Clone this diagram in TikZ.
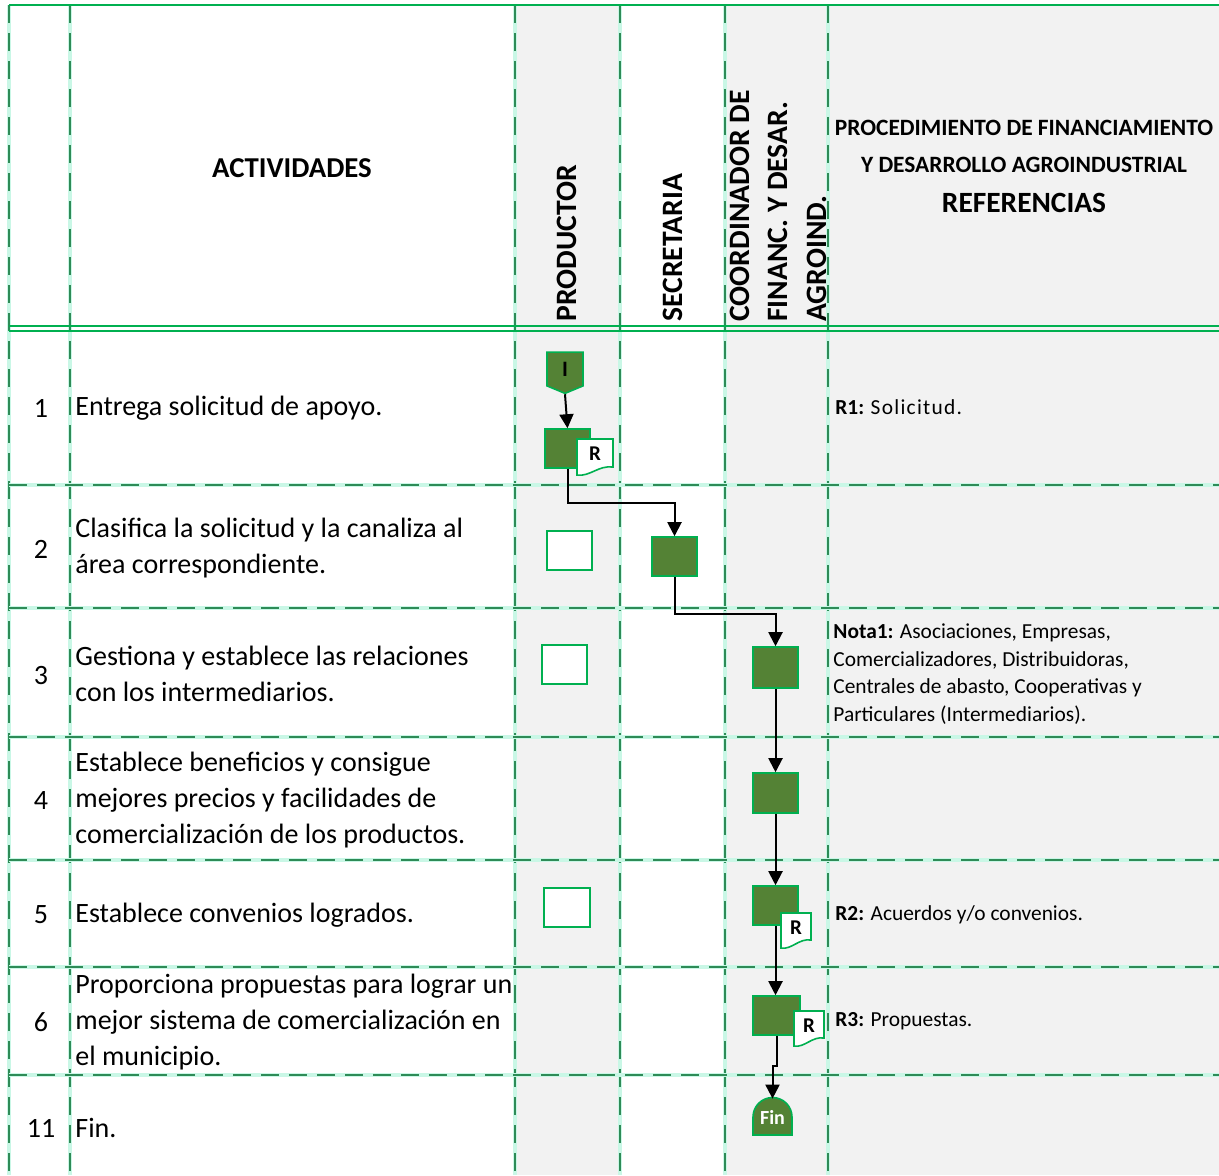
\documentclass[tikz,border=0pt]{standalone}
\usepackage{fontspec}
\setmainfont{Carlito}
\usetikzlibrary{arrows.meta,shapes.symbols,calc}

\definecolor{lanegray}{HTML}{F2F2F2}
\definecolor{linegreen}{HTML}{00B050}
\definecolor{dashgreen}{HTML}{2E8B57}
\definecolor{mint}{HTML}{C9F7E6}
\definecolor{stepgreen}{HTML}{548235}

\tikzset{
    gridbase/.style={draw=mint, line width=1.6pt},
    griddash/.style={draw=dashgreen, line width=1.2pt, dash pattern=on 9pt off 5pt},
    frameline/.style={draw=linegreen, line width=1.1pt},
    stepbox/.style={draw=linegreen, fill=stepgreen, line width=0.8pt, minimum width=22.5pt, minimum height=19.5pt, inner sep=0pt},
    emptybox/.style={draw=linegreen, fill=white, line width=0.8pt, minimum width=22.5pt, minimum height=19.5pt, inner sep=0pt},
    startbox/.style={shape=signal, signal to=south, signal from=nowhere, signal pointer angle=135, draw=linegreen, fill=stepgreen, line width=0.8pt, minimum width=18pt, minimum height=17.5pt, inner sep=0pt, font=\bfseries\fontsize{11}{12}\selectfont},
    docline/.style={draw=linegreen, fill=white, line width=0.8pt},
    doctext/.style={inner sep=0pt, font=\bfseries\fontsize{10.5}{12}\selectfont},
    fintext/.style={inner sep=0pt, minimum width=19.5pt, minimum height=18pt, text=white, font=\bfseries\fontsize{10}{11}\selectfont},
    flow/.style={draw=black, line width=1pt, -{Triangle[length=7pt,width=7pt]}},
    acttext/.style={anchor=west, align=left, inner sep=0pt, font=\fontsize{14}{18}\selectfont},
    numtext/.style={inner sep=0pt, font=\fontsize{14}{18}\selectfont},
    reftext/.style={anchor=west, align=left, inner sep=0pt, font=\fontsize{10.7}{13.75}\selectfont},
    lanehead/.style={rotate=90, anchor=west, align=left, inner sep=0pt, font=\bfseries\fontsize{14.8}{19.25}\selectfont}
}

% dashed grid line: light base with dark dashes
\newcommand{\gridline}[2]{%
    \draw[gridbase] #1 -- #2;
    \draw[griddash] #1 -- #2;
}

% document symbol with an R: name, left, top, width, height
\newcommand{\docR}[5]{%
    \draw[docline] (#2,#3) -- ({#2+#4},#3) -- ({#2+#4},{#3+#5-8}) .. controls ({#2+0.6*#4},{#3+#5-10}) and ({#2+0.35*#4},{#3+#5+2}) .. (#2,{#3+#5}) -- cycle;
    \node[doctext] (#1) at ({#2+#4/2},{#3+#5/2-3}) {R};
}

\begin{document}
\begin{tikzpicture}[x=0.5pt,y=-0.5pt]
    \useasboundingbox (0,0) rectangle (1219,1175);

    % lanes
    \fill[lanegray] (515,5) rectangle (620,1175);
    \fill[lanegray] (725,5) rectangle (1219,1175);

    \foreach \x in {9,70,515,620,725,828} {
        \gridline{(\x,5)}{(\x,1175)}
    }
    \foreach \y in {485,608,737,860,967,1075} {
        \gridline{(9,\y)}{(1219,\y)}
    }
    \draw[frameline] (9,5) -- (1219,5);
    \draw[frameline] (9,326) -- (1219,326);
    \draw[frameline] (9,331) -- (1219,331);

    % header
    \node[font=\bfseries\fontsize{14.4}{16}\selectfont] (acthead) at (292,168) {ACTIVIDADES};
    \node[lanehead] (prodhead) at (567,322) {PRODUCTOR};
    \node[lanehead] (secrhead) at (673,322) {SECRETARIA};
    \node[lanehead] (coorhead) at (778,322) {COORDINADOR DE\\FINANC. Y DESAR.\\AGROIND.};
    \node[font=\bfseries\fontsize{11.7}{13}\selectfont] (title1) at (1024,128) {PROCEDIMIENTO DE FINANCIAMIENTO};
    \node[font=\bfseries\fontsize{11.7}{13}\selectfont] (title2) at (1024,165) {Y DESARROLLO AGROINDUSTRIAL};
    \node[font=\bfseries\fontsize{14.7}{16}\selectfont] (refhead) at (1024,203) {REFERENCIAS};

    % numbers and activities
    \foreach \n/\y in {1/408,2/549,3/675,4/800,5/915,6/1022,11/1128} {
        \node[numtext] (num\n) at (41,\y) {\n};
    }
    \node[acttext] (act1) at (75,408) {Entrega solicitud de apoyo.};
    \node[acttext] (act2) at (75,548) {Clasifica la solicitud y la canaliza al\\área correspondiente.};
    \node[acttext] (act3) at (75,674) {Gestiona y establece las relaciones\\con los intermediarios.};
    \node[acttext] (act4) at (75,800) {Establece beneficios y consigue\\mejores precios y facilidades de\\comercialización de los productos.};
    \node[acttext] (act5) at (75,915) {Establece convenios logrados.};
    \node[acttext] (act6) at (75,1022) {Proporciona propuestas para lograr un\\mejor sistema de comercialización en\\el municipio.};
    \node[acttext] (act11) at (75,1128) {Fin.};

    % references
    \node[reftext] (ref1) at (835,407) {\textbf{R1:} \addfontfeature{LetterSpace=6}Solicitud.};
    \node[reftext] (nota1) at (833,674) {\textbf{Nota1:} Asociaciones, Empresas,\\Comercializadores, Distribuidoras,\\Centrales de abasto, Cooperativas y\\Particulares (Intermediarios).};
    \node[reftext] (ref2) at (835,915) {\textbf{R2:} Acuerdos y/o convenios.};
    \node[reftext] (ref3) at (835,1021) {\textbf{R3:} Propuestas.};

    % flow symbols
    \node[startbox] (ini) at (565,369) {I};
    \node[stepbox] (s1) at (567.5,448.5) {};
    \docR{docA}{577}{439}{36}{36}
    \node[emptybox] (e2) at (569.5,550.5) {};
    \node[stepbox] (s2) at (674.5,556.5) {};
    \node[emptybox] (e3) at (564.5,664.5) {};
    \node[stepbox, minimum height=20.5pt] (s3) at (775.5,667.5) {};
    \node[stepbox, minimum height=20pt] (s4) at (775.5,793) {};
    \node[emptybox, minimum width=23pt] (e5) at (567,907.5) {};
    \node[stepbox] (s5) at (775.5,905.5) {};
    \docR{docB}{781}{913}{30}{35}
    \node[stepbox, minimum width=23.5pt] (s6) at (776.5,1015.5) {};
    \docR{docC}{794}{1011}{30}{35}
    \path[fill=stepgreen, draw=linegreen, line width=0.8pt] (753,1135) -- (753,1117) arc[start angle=180, end angle=0, radius=9.75pt] -- (792,1135) -- cycle;
    \node[fintext] (fin) at (772.5,1117) {Fin};

    % connectors
    \draw[flow] (ini.south) -- (s1.north);
    \draw[flow] (s1.south) -- ++(0,34) -| (s2.north);
    \draw[flow] (s2.south) -- ++(0,37) -| (s3.north);
    \draw[flow] (s3.south) -- (s4.north);
    \draw[flow] (s4.south) -- (s5.north);
    \draw[flow] (s5.south) -- (s5.south |- s6.north);
    \draw[flow] (s6.south) -- ++(0,30) -| (fin.north);
\end{tikzpicture}
\end{document}
